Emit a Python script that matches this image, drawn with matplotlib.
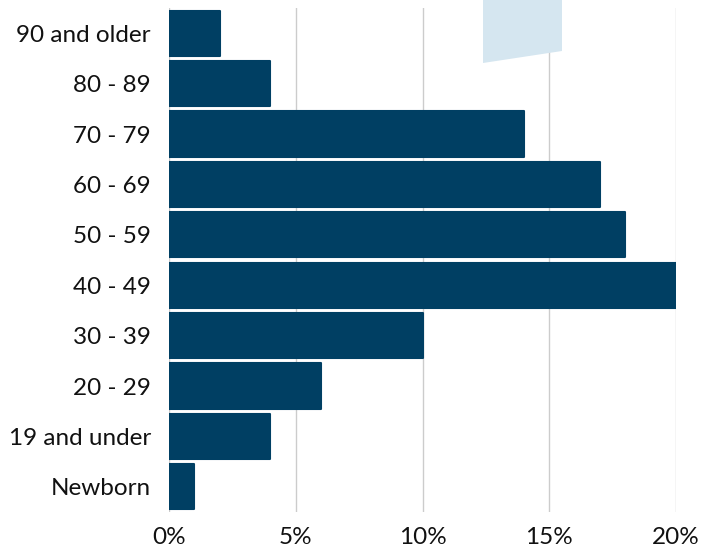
import matplotlib
matplotlib.use("Agg")
import matplotlib.pyplot as plt
from matplotlib.patches import Polygon

categories = ["90 and older", "80 - 89", "70 - 79", "60 - 69", "50 - 59",
              "40 - 49", "30 - 39", "20 - 29", "19 and under", "Newborn"]
values = [2, 4, 14, 17, 18, 20, 10, 6, 4, 1]
xticks = [0, 5, 10, 15, 20]
xticklabels = ["0%", "5%", "10%", "15%", "20%"]

plt.rcParams['font.family'] = ['Lato', 'DejaVu Sans']

W, H = 717, 552
fig = plt.figure(figsize=(W / 100, H / 100), dpi=100)
ax = fig.add_axes([169 / W, (H - 512) / H, (676 - 169) / W, (512 - 8) / H])

# decorative light blue shape at top
poly = Polygon([(483 / W, 1.0), (562 / W, 1.0), (562 / W, (H - 51) / H), (483 / W, (H - 63) / H)],
               closed=True, transform=fig.transFigure, facecolor="#d5e6f0", edgecolor="none", zorder=0)
fig.patches.append(poly)
ax.set_facecolor("none")

n = len(categories)
ypos = list(range(n))
ax.barh(ypos, values, height=0.9, color="#003f63", edgecolor="#003f63",
        linewidth=1.5, joinstyle="round", zorder=3)

ax.set_xlim(0, 20)
ax.set_ylim(n - 0.5, -0.5)
ax.set_xticks(xticks)
ax.set_xticklabels(xticklabels)
ax.set_yticks(ypos)
ax.set_yticklabels(categories)
ax.tick_params(axis="both", length=0, labelsize=17.5, colors="#111111")
ax.tick_params(axis="y", pad=13)
ax.tick_params(axis="x", pad=11)
ax.grid(axis="x", color="#cccccc", linewidth=1.0, zorder=1)
ax.set_axisbelow(True)
for s in ax.spines.values():
    s.set_visible(False)

fig.savefig("out.png", dpi=100)
